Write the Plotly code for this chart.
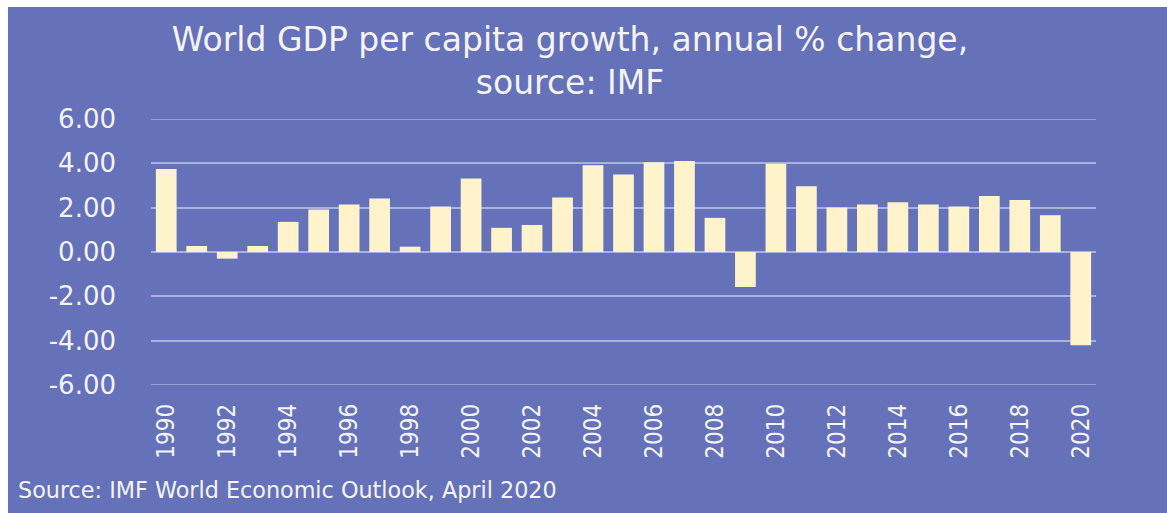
import plotly.graph_objects as go

# World GDP per capita growth, annual % change (IMF WEO, April 2020)
years = list(range(1990, 2021))
growth = [3.75, 0.27, -0.30, 0.27, 1.36, 1.92, 2.14, 2.41, 0.24, 2.05,
          3.32, 1.09, 1.22, 2.46, 3.91, 3.50, 4.05, 4.10, 1.54, -1.58,
          3.98, 2.97, 2.01, 2.14, 2.24, 2.14, 2.05, 2.53, 2.35, 1.66,
          -4.21]
y_ticks = [-6, -4, -2, 0, 2, 4, 6]
y_tick_text = [f"{v:.2f}" for v in y_ticks]
x_ticks = list(range(1990, 2021, 2))

W, H = 1167, 513
L, R, T, B = 151, 71, 119, 128
BG = "#6571b8"
BAR = "#fff3cc"
GRID = "#a9b1df"
TXT = "#f4f4f8"

plot_w = W - L - R
plot_h = H - T - B


def px_x(p):
    return (p - L) / plot_w


def px_y(p):
    return (H - B - p) / plot_h


fig = go.Figure(
    go.Bar(
        x=years,
        y=growth,
        marker=dict(color=BAR, line=dict(width=0)),
        hoverinfo="x+y",
    )
)

# purple card behind everything, leaving a thin white edge top and left
shapes = [
    dict(
        type="rect",
        xref="paper",
        yref="paper",
        x0=px_x(8),
        x1=px_x(W + 5),
        y0=px_y(H + 5),
        y1=px_y(7),
        fillcolor=BG,
        line=dict(width=0),
        layer="below",
    )
]
# gridlines on the range limits, which the axis itself skips
for v in (y_ticks[0], y_ticks[-1]):
    shapes.append(
        dict(
            type="line",
            xref="paper",
            yref="y",
            x0=0,
            x1=1,
            y0=v,
            y1=v,
            line=dict(color=GRID, width=1.5),
            layer="below",
        )
    )

fig.update_layout(
    width=W,
    height=H,
    margin=dict(l=L, r=R, t=T, b=B, pad=0),
    paper_bgcolor="white",
    plot_bgcolor="rgba(0,0,0,0)",
    bargap=0.32,
    showlegend=False,
    title=dict(
        text="World GDP per capita growth, annual % change,<br>source: IMF",
        x=570 / W,
        xanchor="center",
        xref="container",
        yref="container",
        y=1 - 51 / H,
        yanchor="top",
        font=dict(family="DejaVu Sans", size=33, color=TXT),
    ),
    shapes=shapes,
    annotations=[
        dict(
            text="Source: IMF World Economic Outlook, April 2020",
            xref="paper",
            yref="paper",
            x=px_x(16),
            y=px_y(490),
            xanchor="left",
            yanchor="middle",
            showarrow=False,
            font=dict(family="DejaVu Sans", size=22.3, color=TXT),
        )
    ],
)

fig.update_xaxes(
    range=[1989.5, 2020.5],
    tickmode="array",
    tickvals=x_ticks,
    ticktext=[str(y) for y in x_ticks],
    tickangle=-90,
    showgrid=False,
    zeroline=False,
    showline=False,
    ticks="",
    ticklabelstandoff=13,
    tickfont=dict(family="Liberation Sans Narrow, DejaVu Sans Condensed, sans-serif",
                  size=24, color=TXT),
)

fig.update_yaxes(
    range=[-6, 6],
    tickmode="array",
    tickvals=y_ticks,
    ticktext=y_tick_text,
    showgrid=True,
    gridcolor=GRID,
    gridwidth=1.5,
    zeroline=True,
    zerolinecolor=GRID,
    zerolinewidth=1.5,
    showline=False,
    ticks="",
    ticklabelstandoff=34,
    tickfont=dict(family="DejaVu Sans", size=26, color=TXT),
)

fig.write_html("out.html")
